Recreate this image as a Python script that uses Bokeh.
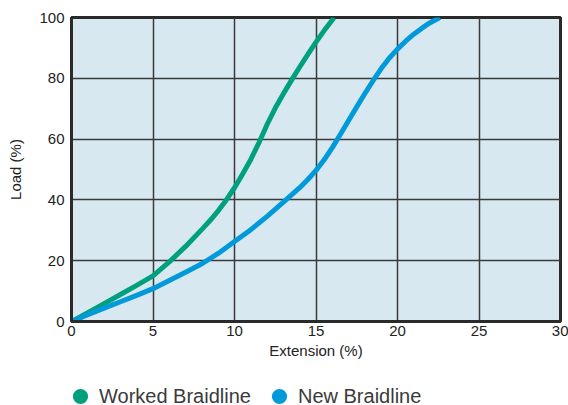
from bokeh.plotting import figure
from bokeh.layouts import column
from bokeh.models import (ColumnDataSource, FixedTicker, Range1d, Legend, LegendItem)
from bokeh.embed import file_html
from bokeh.resources import INLINE

# Data
worked_x = [0, 1, 2, 3, 4, 5, 6, 7, 8, 8.5, 9, 9.5, 10, 10.5, 11, 11.5, 12, 12.5, 13, 13.5, 14, 14.5, 15, 15.5, 16, 16.1]
worked_y = [0, 2.9, 5.9, 8.9, 11.9, 15, 19.6, 24.7, 30.3, 33.2, 36.4, 40, 44, 48.5, 53.3, 58.8, 64.8, 70.2, 74.9, 79.4, 83.7, 87.9, 91.9, 95.7, 99.2, 100]

new_x = [0, 1, 2, 3, 4, 5, 6, 7, 8, 9, 10, 11, 12, 13, 14, 14.5, 15, 15.5, 16, 16.5, 17, 17.5, 18, 18.5, 19, 19.5, 20, 20.5, 21, 21.5, 22, 22.6]
new_y = [0, 2.2, 4.4, 6.5, 8.6, 10.8, 13.5, 16.2, 19, 22.4, 26.3, 30.2, 34.6, 39.3, 44, 46.7, 49.7, 53.2, 57.2, 61.6, 66.1, 70.6, 75, 79.2, 83.2, 86.7, 89.6, 92.2, 94.5, 96.5, 98.3, 100]

x_ticks = [0, 5, 10, 15, 20, 25, 30]
y_ticks = [0, 20, 40, 60, 80, 100]

series_names = ["Worked Braidline", "New Braidline"]
series_colors = ["#00a07f", "#0099d9"]

FONT = "Liberation Sans"
DARK = "#2a2a2a"

p = figure(width=568, height=361, output_backend="svg", toolbar_location=None,
           x_range=Range1d(0, 30), y_range=Range1d(0, 100),
           min_border_left=71, min_border_right=8, min_border_top=17, min_border_bottom=40)

p.background_fill_color = "#d8e8f0"
p.border_fill_color = "white"
p.outline_line_color = DARK
p.outline_line_width = 3

p.xaxis.ticker = FixedTicker(ticks=x_ticks)
p.yaxis.ticker = FixedTicker(ticks=y_ticks)
p.xgrid.ticker = FixedTicker(ticks=x_ticks)
p.ygrid.ticker = FixedTicker(ticks=y_ticks)

for g in (p.xgrid, p.ygrid):
    g.grid_line_color = "#3a3a3a"
    g.grid_line_width = 1.5
    g.grid_line_alpha = 1

for ax in (p.xaxis, p.yaxis):
    ax.axis_line_color = DARK
    ax.axis_line_width = 3
    ax.major_tick_out = 0
    ax.major_tick_in = 0
    ax.minor_tick_out = 0
    ax.minor_tick_in = 0
    ax.major_label_text_font = FONT
    ax.major_label_text_font_size = "15px"
    ax.major_label_text_color = "#222222"
    ax.axis_label_text_font = FONT
    ax.axis_label_text_font_size = "15px"
    ax.axis_label_text_font_style = "normal"
    ax.axis_label_text_color = "#222222"

p.xaxis.axis_label = "Extension (%)"
p.yaxis.axis_label = "Load (%)"
p.xaxis.major_label_standoff = 4
p.xaxis.axis_label_standoff = 3
p.yaxis.major_label_standoff = 7
p.yaxis.axis_label_standoff = 12

src_w = ColumnDataSource(data=dict(x=worked_x, y=worked_y))
src_n = ColumnDataSource(data=dict(x=new_x, y=new_y))
p.line("x", "y", source=src_w, line_color=series_colors[0], line_width=5, line_join="round")
p.line("x", "y", source=src_n, line_color=series_colors[1], line_width=5, line_join="round")

# separate strip holding the legend under the chart; its ranges exclude all data,
# so the dot renderers only show up as legend glyphs
leg = figure(width=568, height=44, output_backend="svg", toolbar_location=None,
             x_range=Range1d(-2, -1), y_range=Range1d(-2, -1),
             x_axis_location=None, y_axis_location=None,
             min_border_left=0, min_border_right=0, min_border_top=0, min_border_bottom=0)
leg.grid.visible = False
leg.outline_line_color = None
leg.background_fill_color = "white"
leg.border_fill_color = "white"

dot_w = leg.scatter("x", "y", source=src_w, marker="circle",
                    fill_color=series_colors[0], line_color=None)
dot_n = leg.scatter("x", "y", source=src_n, marker="circle",
                    fill_color=series_colors[1], line_color=None)

legend = Legend(items=[LegendItem(label=series_names[0], renderers=[dot_w]),
                       LegendItem(label=series_names[1], renderers=[dot_n])],
                location=(-10, -10), orientation="horizontal",
                glyph_width=38, glyph_height=38, label_standoff=-3, spacing=9,
                padding=0, margin=0, background_fill_alpha=0, border_line_alpha=0,
                label_text_font=FONT, label_text_font_size="20px", label_text_color="#3a3a3a")
leg.add_layout(legend)

layout = column(p, leg, spacing=0)
open("out.html", "w").write(file_html(layout, INLINE))
